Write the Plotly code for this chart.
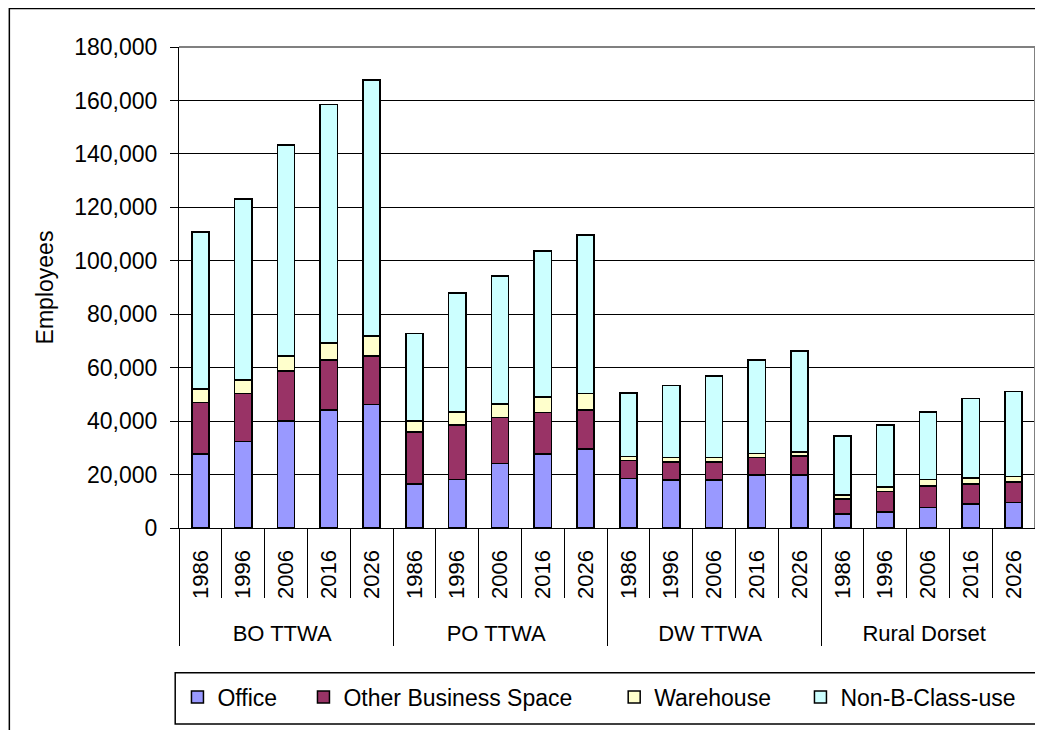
import plotly.graph_objects as go

regions = ["BO TTWA", "PO TTWA", "DW TTWA", "Rural Dorset"]
years = ["1986", "1996", "2006", "2016", "2026"]

office = [27700, 32400, 40100, 44100, 46300,
          16500, 18100, 24200, 27700, 29500,
          18600, 18000, 18000, 19800, 19800,
          5300, 6000, 7600, 8900, 9600]
other_business = [19200, 17900, 18700, 18700, 18000,
                  19400, 20500, 17200, 15600, 14600,
                  6700, 6700, 6700, 6500, 7100,
                  5600, 7700, 8200, 7600, 7600]
warehouse = [5100, 5000, 5500, 6500, 7600,
             4100, 4900, 5000, 5800, 6200,
             1500, 1600, 1600, 1500, 1600,
             1400, 1700, 2300, 2200, 2100]
non_b = [58700, 67800, 79000, 89200, 95700,
         32700, 44400, 47900, 54600, 59300,
         23800, 27100, 30600, 35000, 37800,
         22100, 23200, 25400, 29700, 31800]

series = [
    ("Office", office, "#9999FF"),
    ("Other Business Space", other_business, "#993366"),
    ("Warehouse", warehouse, "#FFFFCC"),
    ("Non-B-Class-use", non_b, "#CCFFFF"),
]
legend_x = [-0.0018, 0.1454, 0.5084, 0.7260]
legend_ids = ["legend", "legend2", "legend3", "legend4"]

xcat = [[r for r in regions for _ in years], [y for _ in regions for y in years]]

FONT = "Liberation Sans, Arial, sans-serif"

fig = go.Figure()
for (name, vals, col), lid in zip(series, legend_ids):
    fig.add_trace(go.Bar(x=xcat, y=vals, name=name, legend=lid,
                         marker=dict(color=col, line=dict(color="black", width=1.5))))

legend_common = dict(orientation="h", yanchor="middle", xanchor="left", y=-0.3514,
                     bgcolor="rgba(0,0,0,0)", borderwidth=0,
                     font=dict(size=23, family=FONT, color="black"))

# page body has an 8px margin, so the figure is 8px smaller than the window
fig.update_layout(
    barmode="stack",
    bargap=0.6,
    width=1035, height=722,
    margin=dict(l=170.5, r=8, t=39, b=202, pad=0, autoexpand=False),
    paper_bgcolor="white", plot_bgcolor="white",
    font=dict(family=FONT, size=22, color="black"),
    showlegend=True,
    legend=dict(x=legend_x[0], **legend_common),
    legend2=dict(x=legend_x[1], **legend_common),
    legend3=dict(x=legend_x[2], **legend_common),
    legend4=dict(x=legend_x[3], **legend_common),
)

fig.update_yaxes(range=[0, 180000], dtick=20000, tickformat=",", automargin=False,
                 showgrid=True, gridcolor="black", gridwidth=1,
                 showline=True, linecolor="black", linewidth=1,
                 ticks="outside", ticklen=8, tickcolor="black", ticklabelstandoff=8,
                 tickfont=dict(size=23, family=FONT),
                 title=dict(text="Employees", font=dict(size=23, family=FONT), standoff=14),
                 zeroline=False)

fig.update_xaxes(type="multicategory", automargin=False,
                 showline=True, linecolor="black", linewidth=1,
                 ticks="outside", tickson="boundaries", ticklen=69, tickcolor="black",
                 tickangle=-90, tickfont=dict(size=22, family=FONT),
                 ticksuffix="\u00a0\u00a0",
                 showdividers=True, dividercolor="black", dividerwidth=1,
                 showgrid=False)

# plot-area border (grey, top and right)
fig.add_shape(type="line", xref="paper", yref="paper", x0=0, x1=1, y0=1, y1=1,
              line=dict(color="#808080", width=2), layer="above")
fig.add_shape(type="line", xref="paper", yref="paper", x0=1, x1=1, y0=0, y1=1,
              line=dict(color="#808080", width=2), layer="above")
# legend box
fig.add_shape(type="rect", xref="paper", yref="paper",
              x0=-0.00444, x1=1.00234, y0=-0.4075, y1=-0.3008,
              line=dict(color="black", width=1.5), layer="above")
# outer chart frame
fig.add_shape(type="rect", xref="paper", yref="paper",
              x0=-0.1982, x1=1.03, y0=-0.46, y1=1.0800,
              line=dict(color="black", width=1.5), layer="above")

fig.write_html("out.html")
